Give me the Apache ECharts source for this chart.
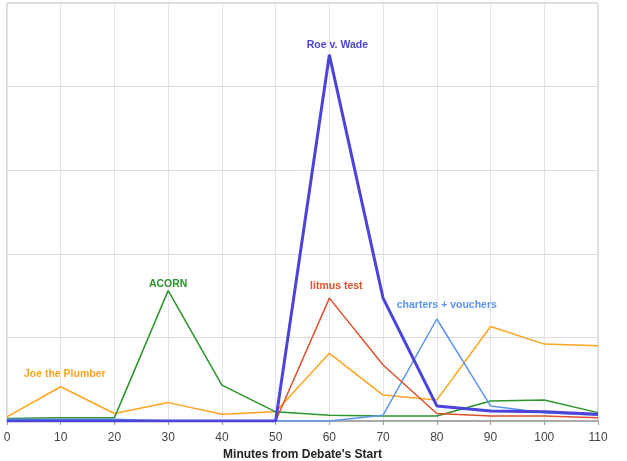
<!DOCTYPE html>
<html>
<head>
<meta charset="utf-8">
<script src="https://cdn.jsdelivr.net/npm/echarts@6/dist/echarts.min.js"></script>
<style>html,body{margin:0;padding:0;background:#fff;}#c{width:627px;height:461px;}</style>
</head>
<body>
<div id="c"></div>
<script>
const minutes = [0, 10, 20, 30, 40, 50, 60, 70, 80, 90, 100, 110];
const joePlumber = [0.05, 0.41, 0.09, 0.22, 0.08, 0.11, 0.81, 0.31, 0.25, 1.13, 0.92, 0.90];
const acorn = [0.03, 0.04, 0.04, 1.56, 0.43, 0.11, 0.07, 0.06, 0.06, 0.24, 0.25, 0.10];
const charters = [0.02, 0.02, 0.02, 0, 0, 0, 0, 0.07, 1.22, 0.18, 0.10, 0.07];
const litmus = [0, 0, 0, 0, 0, 0, 1.47, 0.67, 0.09, 0.06, 0.06, 0.04];
const roeWade = [0, 0, 0, 0, 0, 0, 4.38, 1.47, 0.18, 0.12, 0.11, 0.08];
const seriesNames = ['Joe the Plumber', 'ACORN', 'charters + vouchers', 'litmus test', 'Roe v. Wade'];
// minute at which each series' name label is attached
const labelAt = [10, 30, 80, 60, 60];
const xTicks = minutes.slice();

const seriesDefs = [
  {data: joePlumber, color: '#ffa31f', width: 1.5, dx: 4, dist: 7},
  {data: acorn, color: '#2a952a', width: 1.5, dx: 0, dist: 1},
  {data: charters, color: '#5b95f0', width: 1.5, dx: 10, dist: 8},
  {data: litmus, color: '#e0502d', width: 1.5, dx: 7, dist: 6},
  {data: roeWade, color: '#4a44d8', width: 3, dx: 8, dist: 4}
];

function build(def, k) {
  const name = seriesNames[k];
  const li = minutes.indexOf(labelAt[k]);
  return {
    type: 'line',
    name: name,
    symbol: 'circle',
    symbolSize: 0,
    showSymbol: true,
    smooth: false,
    lineStyle: {color: def.color, width: def.width},
    itemStyle: {color: def.color},
    z: def.width > 2 ? 5 : 3,
    labelLayout: {hideOverlap: false},
    data: def.data.map((v, i) => i === li ? {
      value: [minutes[i], v],
      label: {
        show: true, position: 'top', distance: def.dist, padding: [0, 0, 0, 2 * def.dx], formatter: name,
        color: def.color, fontWeight: 'bold', fontSize: 10.5, opacity: 1,
        fontFamily: 'Liberation Sans, Arial, sans-serif'
      }
    } : [minutes[i], v])
  };
}

const chart = echarts.init(document.getElementById('c'));
chart.setOption({
  animation: false,
  backgroundColor: '#fff',
  grid: {left: 7, right: 29, top: 3, bottom: 40, show: true, borderColor: '#b8b8b8', borderWidth: 1,
    containLabel: false, outerBoundsMode: 'none'},
  xAxis: {
    type: 'value', min: 0, max: 110, interval: 10,
    name: "Minutes from Debate's Start", nameLocation: 'middle', nameGap: 27,
    nameTextStyle: {fontWeight: 'bold', fontSize: 12, color: '#222', fontFamily: 'Liberation Sans, Arial, sans-serif'},
    axisLine: {show: true, lineStyle: {color: '#999', width: 1.5}},
    axisTick: {show: true, length: 4, lineStyle: {color: '#999'}},
    axisLabel: {color: '#444', fontSize: 12, margin: 11, fontFamily: 'Liberation Sans, Arial, sans-serif',
      formatter: v => xTicks.includes(v) ? String(v) : ''},
    splitLine: {show: true, lineStyle: {color: '#e3e3e3'}}
  },
  yAxis: {
    type: 'value', min: 0, max: 5, interval: 1,
    axisLabel: {show: false}, axisTick: {show: false},
    axisLine: {show: false},
    splitLine: {show: true, lineStyle: {color: '#dcdcdc'}}
  },
  series: seriesDefs.map(build)
});
</script>
</body>
</html>
